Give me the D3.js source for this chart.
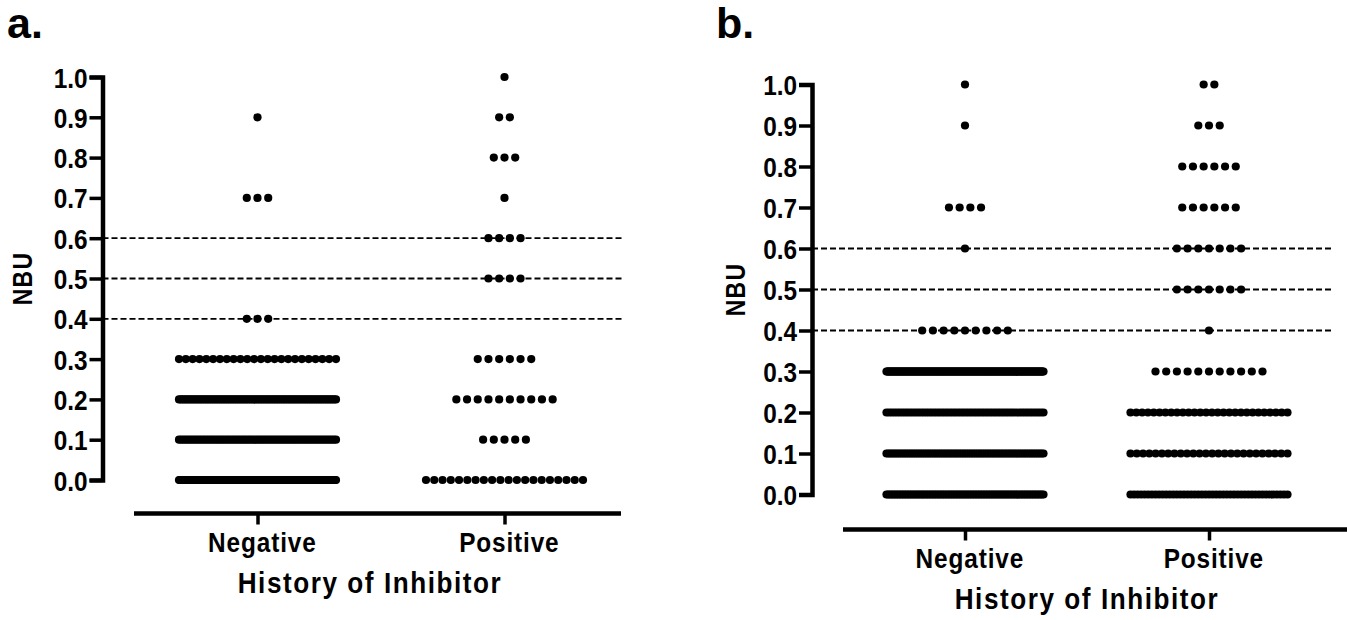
<!DOCTYPE html>
<html>
<head>
<meta charset="utf-8">
<script src="https://cdn.jsdelivr.net/npm/d3@7"></script>
<style>
  body { margin: 0; background: #fff; }
  svg { display: block; }
  text { font-family: "Liberation Sans", Arial, sans-serif; font-weight: bold; fill: #000; }
</style>
</head>
<body>
<svg id="chart" width="1347" height="620"></svg>
<script>
// Inhibitor history groups on the x axis
const categories = ["Negative", "Positive"];
// NBU levels at which titres were recorded (also the y tick values)
const nbuLevels = [0.0, 0.1, 0.2, 0.3, 0.4, 0.5, 0.6, 0.7, 0.8, 0.9, 1.0];
// Cut-off thresholds drawn as dashed reference lines
const cutoffs = [0.4, 0.5, 0.6];

// Number of results at each NBU level (same order as nbuLevels)
const aNegativeCounts = [160, 70, 90, 24, 3, 0, 0, 3, 0, 1, 0];
const aPositiveCounts = [20, 5, 10, 6, 0, 4, 4, 1, 3, 2, 1];
const bNegativeCounts = [100, 90, 60, 200, 9, 0, 1, 4, 0, 1, 1];
const bPositiveCounts = [45, 26, 28, 11, 1, 7, 7, 6, 6, 3, 2];

const svg = d3.select("#chart");
const SX = 0.87; // horizontal condensing of the label type

// squeeze text horizontally while keeping its anchor point in place
function condense(sel, sx) {
  sel.each(function () {
    const t = d3.select(this);
    const x0 = +t.attr("x") || 0;
    t.attr("x", x0 / sx).attr("transform", `scale(${sx},1)`);
  });
}

function drawPanel(opts) {
  const g = svg.append("g");
  const y = d3.scaleLinear().domain([0, 1]).range([opts.yBottom, opts.yTop]);
  const x = d3.scalePoint().domain(categories).range([opts.xStart, opts.xEnd]).padding(0.5);

  // panel letter
  g.append("text").attr("x", opts.letterX).attr("y", 38)
    .style("font-size", "43px").text(opts.letter);

  // dashed cut-off lines
  g.selectAll("line.cut").data(cutoffs).join("line")
    .attr("x1", opts.axisX).attr("x2", opts.dashEnd)
    .attr("y1", d => y(d)).attr("y2", d => y(d))
    .attr("stroke", "#000").attr("stroke-width", 1.8)
    .attr("stroke-dasharray", "6,3");

  // y axis
  const yAxis = d3.axisLeft(y).tickValues(nbuLevels).tickFormat(d3.format(".1f"))
    .tickSize(13).tickPadding(2);
  const ya = g.append("g").attr("transform", `translate(${opts.axisX},0)`).call(yAxis);
  ya.select(".domain").attr("stroke", "#000").attr("stroke-width", 4.5)
    .attr("stroke-linejoin", "miter").attr("fill", "none");
  ya.selectAll(".tick line").attr("stroke", "#000").attr("stroke-width", 3.5);
  ya.selectAll(".tick text").style("font-size", "28px").attr("dy", "0.36em")
    .style("font-family", "'Liberation Sans', Arial, sans-serif").style("font-weight", "bold")
    .call(condense, SX);

  // x axis
  const xAxis = d3.axisBottom(x).tickSize(11).tickSizeOuter(0).tickPadding(8);
  const xa = g.append("g").attr("transform", `translate(0,${opts.xAxisY})`).call(xAxis);
  xa.select(".domain").attr("d", `M${opts.xStart},0H${opts.xLineEnd}`)
    .attr("stroke", "#000").attr("stroke-width", 4.5);
  xa.selectAll(".tick line").attr("stroke", "#000").attr("stroke-width", 3.5);
  xa.selectAll(".tick text").style("font-size", "28px")
    .style("font-family", "'Liberation Sans', Arial, sans-serif").style("font-weight", "bold")
    .style("letter-spacing", "1px").attr("dx", "5px")
    .call(condense, SX);

  // axis titles
  g.append("g").attr("transform", `translate(${opts.xTitleX},${opts.xAxisY + 79})`)
    .append("text").attr("text-anchor", "middle")
    .style("font-size", "30px").style("letter-spacing", "1.8px")
    .text("History of Inhibitor")
    .call(condense, SX);
  g.append("g")
    .attr("transform", `translate(${opts.nbuX},${(opts.yTop + opts.yBottom) / 2}) rotate(-90)`)
    .append("text").attr("text-anchor", "middle")
    .style("font-size", "27px").style("letter-spacing", "1.5px")
    .text("NBU")
    .call(condense, 0.85);

  // scatter dots: each level's results spread in a row around the group centre
  const pitch = 10.7, maxSpan = 157;
  const points = [];
  opts.series.forEach((counts, ci) => {
    counts.forEach((n, li) => {
      if (!n) return;
      const step = n > 1 ? Math.min(pitch, maxSpan / (n - 1)) : 0;
      for (let i = 0; i < n; i++) {
        points.push({ cat: categories[ci], value: nbuLevels[li], off: (i - (n - 1) / 2) * step });
      }
    });
  });
  g.append("g").selectAll("circle").data(points).join("circle")
    .attr("cx", d => x(d.cat) + d.off)
    .attr("cy", d => y(d.value))
    .attr("r", 4.1)
    .attr("fill", "#000");
}

drawPanel({
  letter: "a.", letterX: 7,
  axisX: 102.5, yTop: 77, yBottom: 480, xAxisY: 513.5,
  xStart: 134, xEnd: 628, xLineEnd: 621, dashEnd: 622,
  xTitleX: 370, nbuX: 32,
  series: [aNegativeCounts, aPositiveCounts]
});

drawPanel({
  letter: "b.", letterX: 716,
  axisX: 812, yTop: 84.5, yBottom: 494.5, xAxisY: 529.5,
  xStart: 843, xEnd: 1331, xLineEnd: 1347, dashEnd: 1333,
  xTitleX: 1087, nbuX: 745,
  series: [bNegativeCounts, bPositiveCounts]
});
</script>
</body>
</html>
